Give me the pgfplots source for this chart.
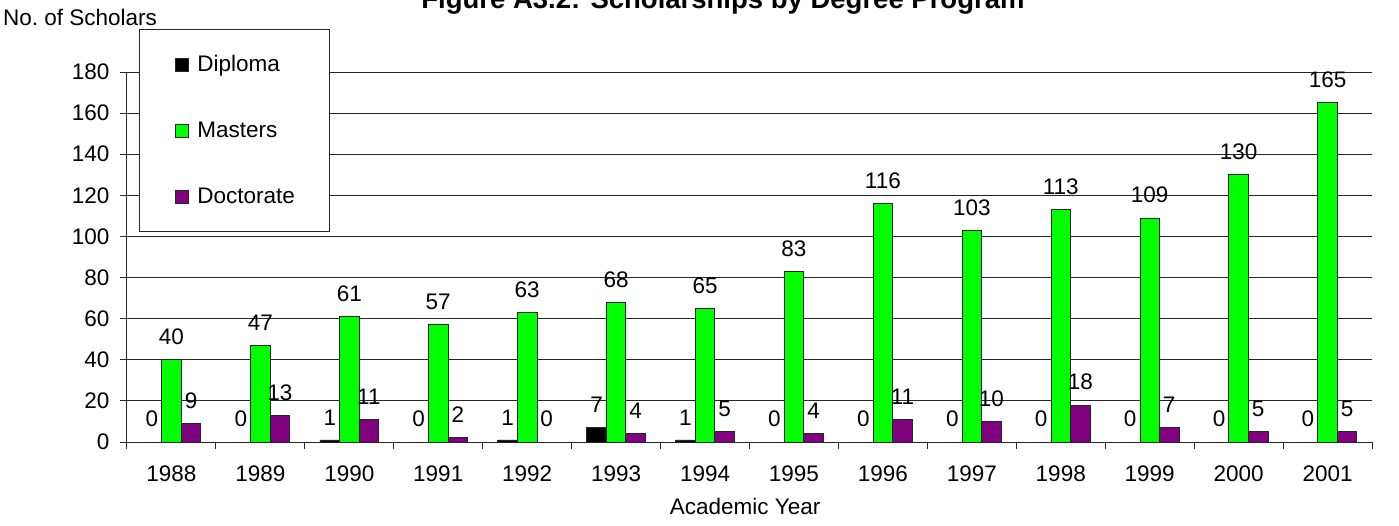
\documentclass[border=0pt]{standalone}
\usepackage{pgfplots}
\pgfplotsset{compat=1.18}
\usepackage{fontspec}
\setmainfont{Liberation Sans}
\definecolor{mgreen}{RGB}{0,255,0}
\definecolor{dpurple}{RGB}{128,0,128}
\begin{document}
\begin{tikzpicture}[font=\fontsize{22.5}{27}\selectfont]
\useasboundingbox (-127pt,-83pt) rectangle (1272pt,442pt);
\begin{axis}[
 at={(0pt,0pt)}, anchor=south west,
 scale only axis, width=1245pt, height=370pt,
 xmin=-0.5, xmax=13.5, ymin=0, ymax=180,
 ybar=0pt, bar width=0.22,
 axis x line*=bottom, axis y line*=left,
 x axis line style={-, line width=1pt, black!85},
 y axis line style={-, line width=1pt, black!85},
 tick align=outside, major tick length=7pt,
 ytick={0,20,...,180},
 ytick style={line width=1pt, black!85},
 ymajorgrids, grid style={black!85, line width=0.8pt},
 xtick={0,...,13},
 xticklabels={1988,1989,1990,1991,1992,1993,1994,1995,1996,1997,1998,1999,2000,2001},
 xtick style={draw=none},
 extra x ticks={-0.5,0.5,...,13.5},
 extra x tick labels={},
 extra x tick style={xtick style={draw=black!85, line width=1pt}, grid=none},
 /pgf/number format/assume math mode=true,
 tick label style={font=\fontsize{22.5}{27}\selectfont},
 x tick label style={yshift=-13pt},
 y tick label style={xshift=-7pt},
 xlabel={Academic Year},
 xlabel style={at={(axis description cs:0.4964,-0.197)}, anchor=base, font=\fontsize{22.5}{27}\selectfont},
 ylabel={No.\ of Scholars},
 ylabel style={rotate=-90, at={(axis description cs:-0.0996,1.127)}, anchor=base west, inner sep=0pt, font=\fontsize{22.5}{27}\selectfont},
 nodes near coords,
 every node near coord/.append style={anchor=south, inner sep=0pt, yshift=14.5pt, black, font=\fontsize{22.5}{27}\selectfont},
 legend style={at={(axis description cs:0.00964,1.116)}, anchor=north west, draw=black!85, line width=1pt, fill=white,
   inner xsep=35pt, inner ysep=2pt, row sep=0pt, column sep=9pt,
   nodes={inner sep=0pt, minimum height=66pt}, cells={anchor=west}, font=\fontsize{22.5}{27}\selectfont},
 mylegend/.style={legend image code/.code={\draw[##1, draw=black!85, line width=0.8pt] (0pt,-6.5pt) rectangle (13pt,6.5pt);}},
]
\addplot[fill=black, draw=black!85, line width=0.8pt, mylegend] coordinates {
(0,0) (1,0) (2,1) (3,0) (4,1) (5,7) (6,1) (7,0) (8,0) (9,0) (10,0) (11,0) (12,0) (13,0)};
\addplot[fill=mgreen, draw=black!85, line width=0.8pt, mylegend] coordinates {
(0,40) (1,47) (2,61) (3,57) (4,63) (5,68) (6,65) (7,83) (8,116) (9,103) (10,113) (11,109) (12,130) (13,165)};
\addplot[fill=dpurple, draw=black!85, line width=0.8pt, mylegend] coordinates {
(0,9) (1,13) (2,11) (3,2) (4,0) (5,4) (6,5) (7,4) (8,11) (9,10) (10,18) (11,7) (12,5) (13,5)};
\legend{Diploma,Masters,Doctorate}
\end{axis}
\node[font=\bfseries\fontsize{27.5}{32}\selectfont, anchor=base] at (596pt,433pt) {Figure A3.2: Scholarships by Degree Program};
\end{tikzpicture}
\end{document}
